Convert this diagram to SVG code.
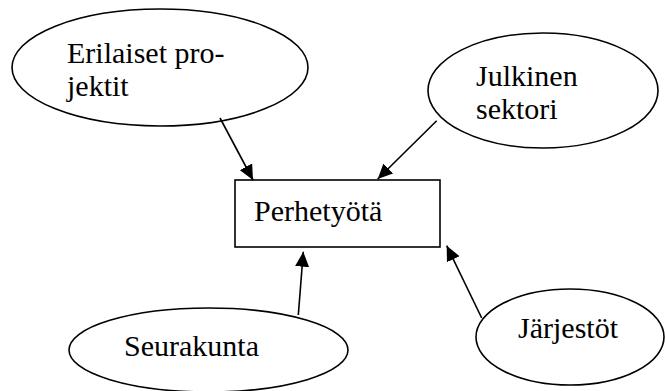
<svg xmlns="http://www.w3.org/2000/svg" width="665" height="391" viewBox="0 0 665 391">
<style>
.shape{fill:#fff;stroke:#000;stroke-width:1.6}
.lbl{font-family:"Liberation Serif","Times New Roman",serif;font-size:30px;fill:#000}
.conn line{stroke:#000;stroke-width:1.6}
</style>
<defs>
<marker id="ah" markerUnits="userSpaceOnUse" markerWidth="16" markerHeight="14" refX="15" refY="7" orient="auto">
<path d="M0,0 L15,7 L0,14 Z" fill="#000"/>
</marker>
</defs>
<rect width="665" height="391" fill="#fff"/>
<g id="erilaiset">
<ellipse class="shape" cx="160" cy="67.5" rx="148" ry="58.5"/>
<text class="lbl" x="67" y="63">Erilaiset pro-</text>
<text class="lbl" x="67" y="96">jektit</text>
</g>
<g id="julkinen">
<ellipse class="shape" cx="543" cy="90.5" rx="115" ry="57.5"/>
<text class="lbl" x="476" y="86">Julkinen</text>
<text class="lbl" x="476" y="119">sektori</text>
</g>
<g id="perhetyota">
<rect class="shape" x="235" y="180" width="205" height="67"/>
<text class="lbl" x="254" y="221">Perhetyötä</text>
</g>
<g id="seurakunta">
<ellipse class="shape" cx="208.5" cy="350" rx="139.5" ry="42"/>
<text class="lbl" x="124" y="356">Seurakunta</text>
</g>
<g id="jarjestot">
<ellipse class="shape" cx="570" cy="337" rx="94" ry="48"/>
<text class="lbl" x="518" y="338">Järjestöt</text>
</g>
<g id="connectors" class="conn">
<line x1="220" y1="118" x2="253" y2="180" marker-end="url(#ah)"/>
<line x1="436.7" y1="120.7" x2="377.7" y2="179" marker-end="url(#ah)"/>
<line x1="298.3" y1="315" x2="303.3" y2="251.7" marker-end="url(#ah)"/>
<line x1="481.7" y1="318" x2="446.7" y2="245.7" marker-end="url(#ah)"/>
</g>
</svg>
